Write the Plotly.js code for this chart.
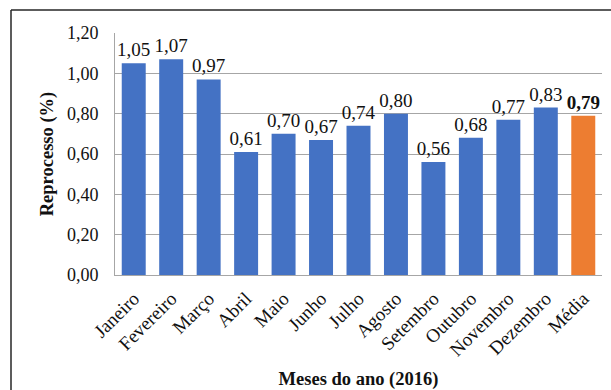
<!DOCTYPE html>
<html>
<head>
<meta charset="utf-8">
<script src="https://cdn.plot.ly/plotly-3.0.1.min.js"></script>
<style>
  html, body { margin: 0; padding: 0; background: #fff; overflow: hidden; }
  #chart { width: 611px; height: 390px; }
</style>
</head>
<body>
<div id="chart"></div>
<script>
// Monthly reprocessing rate for 2016, plus the yearly average
const meses = ['Janeiro', 'Fevereiro', 'Março', 'Abril', 'Maio', 'Junho', 'Julho',
               'Agosto', 'Setembro', 'Outubro', 'Novembro', 'Dezembro', 'Média'];
const reprocesso = [1.05, 1.07, 0.97, 0.61, 0.70, 0.67, 0.74, 0.80, 0.56, 0.68, 0.77, 0.83, 0.79];
const yTicks = [0, 0.2, 0.4, 0.6, 0.8, 1.0, 1.2];

const AZUL = '#4472C4';
const LARANJA = '#ED7D31';
const GRADE = '#A6A6A6';
const TEXTO = '#111';
const SERIF = '"Liberation Serif", "Times New Roman", serif';

const fmt = v => v.toFixed(2).replace('.', ',');
const ultimo = meses.length - 1;

const cores = meses.map((m, i) => i === ultimo ? LARANJA : AZUL);
const rotulos = reprocesso.map((v, i) => i === ultimo ? '<b>' + fmt(v) + '</b>' : fmt(v));

const W = 611, H = 390;
const M = { l: 115, r: 9, t: 33, b: 115 };
const pw = W - M.l - M.r, ph = H - M.t - M.b;
// convert page pixels to paper coordinates for the outer frame
const px2x = px => (px - M.l) / pw;
const px2y = py => (H - M.b - py) / ph;

const frame = { color: '#262626', width: 1.5 };

const data = [{
  type: 'bar',
  x: meses,
  y: reprocesso,
  marker: { color: cores, line: { width: 0 } },
  text: rotulos,
  textposition: 'outside',
  constraintext: 'none',
  cliponaxis: false,
  textfont: { family: SERIF, size: 19, color: TEXTO },
  hoverinfo: 'x+y'
}];

const layout = {
  width: W, height: H,
  margin: M,
  paper_bgcolor: '#fff',
  plot_bgcolor: '#fff',
  separators: ',.',
  bargap: 0.36,
  showlegend: false,
  font: { family: SERIF, size: 18, color: TEXTO },
  xaxis: {
    type: 'category',
    tickangle: -45,
    tickfont: { family: SERIF, size: 19, color: TEXTO },
    ticklabelstandoff: 4,
    showline: true, linecolor: GRADE, linewidth: 1,
    ticks: '',
    showgrid: false,
    title: { text: '<b>Meses do ano (2016)</b>', standoff: 22,
             font: { family: SERIF, size: 18.5, color: TEXTO } }
  },
  yaxis: {
    range: [0, 1.2],
    tickvals: yTicks,
    tickformat: '.2f',
    tickfont: { family: SERIF, size: 18, color: TEXTO },
    ticklabelstandoff: 12,
    showline: true, linecolor: GRADE, linewidth: 1,
    showgrid: true, gridcolor: GRADE, gridwidth: 1,
    zeroline: false,
    ticks: '',
    title: { text: '<b>Reprocesso (%)</b>', standoff: 8,
             font: { family: SERIF, size: 18.5, color: TEXTO } }
  },
  shapes: [
    { type: 'line', xref: 'paper', yref: 'paper', x0: px2x(11), x1: px2x(11), y0: px2y(H + 20), y1: px2y(10), line: frame },
    { type: 'line', xref: 'paper', yref: 'paper', x0: px2x(11), x1: px2x(W + 20), y0: px2y(10), y1: px2y(10), line: frame }
  ]
};

Plotly.newPlot('chart', data, layout, { displayModeBar: false, staticPlot: true });
</script>
</body>
</html>
